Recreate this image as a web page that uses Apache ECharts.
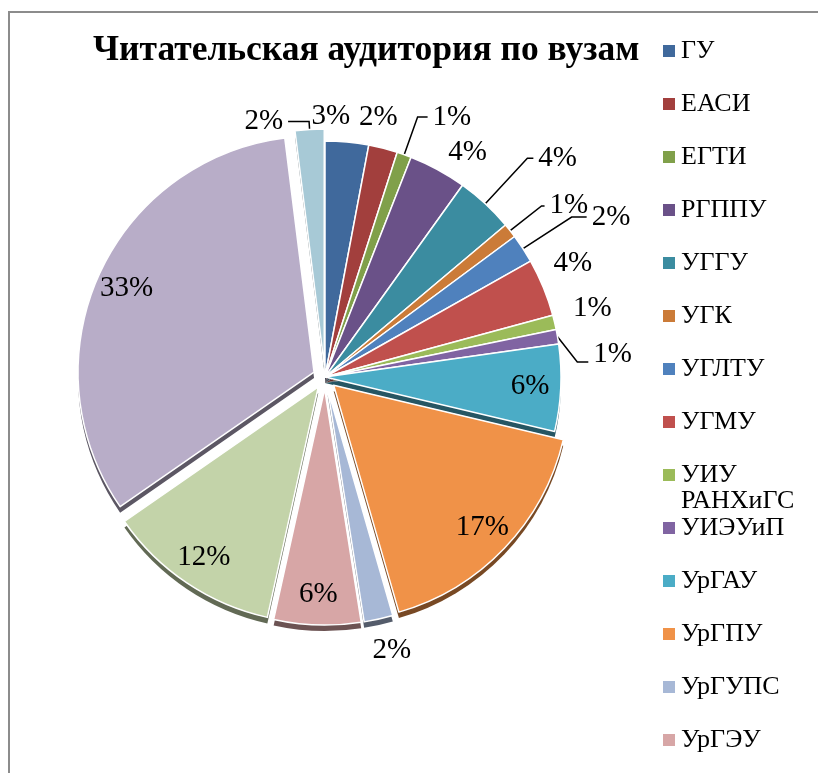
<!DOCTYPE html>
<html>
<head>
<meta charset="utf-8">
<script src="https://cdn.jsdelivr.net/npm/echarts@6/dist/echarts.min.js"></script>
<style>
  html, body { margin: 0; padding: 0; background: #fff; }
  #main { width: 818px; height: 773px; }
</style>
</head>
<body>
<div id="main"></div>
<script>
// вузы (последние три в легенду не попали)
var names = ['ГУ', 'ЕАСИ', 'ЕГТИ', 'РГППУ', 'УГГУ', 'УГК', 'УГЛТУ', 'УГМУ',
	'УИУ РАНХиГС', 'УИЭУиП', 'УрГАУ', 'УрГПУ', 'УрГУПС', 'УрГЭУ',
	'УрГЮУ', 'УрФУ', 'Прочие'];
var shares = [3, 2, 1, 4, 4, 1, 2, 4, 1, 1, 6, 17, 2, 6, 12, 33, 2];
var colors = ['#40699C', '#A23F3D', '#80A04A', '#6A5188', '#3B8CA0', '#CB7B38', '#4F81BD', '#C0504D',
	'#9BBB59', '#8064A2', '#4BACC6', '#F09248', '#A7B8D6', '#D7A6A6',
	'#C3D3A9', '#B8ADC8', '#A7C9D6'];
// подписи: внутри/снаружи, выноска, выдвинутые секторы, длины выносок
var labelInside = [0, 0, 0, 0, 0, 0, 0, 0, 0, 0, 1, 1, 0, 1, 1, 1, 0];
var withLine    = [0, 0, 1, 0, 1, 1, 1, 0, 0, 1, 0, 0, 0, 0, 0, 0, 1];
var exploded    = [0, 0, 0, 0, 0, 0, 0, 0, 0, 0, 0, 1, 1, 1, 1, 1, 1];
var lineLen     = [26, 32, 40, 20, 62, 40, 58, 65, 62, 17, 0, 0, 32, 0, 0, 0, 8];
var lineLen2    = [-43, -37, 10, -4, 6, 3, 15, -55, -47, 14, 0, 0, -18, 0, 0, 0, 21];
var dropLabel   = [0, 0, 0, 0, 0, 0, 0, 0, 0, 20, 0, 0, 0, 0, 0, 0, 0]; // выноска вниз

var legendNames = names.slice(0, 14);
var serif = 'Liberation Serif';
var pieCenter = [325, 377], pieRadius = 236, insideRatio = 0.87, rimDepth = 6;

function darken(hex, k) {
	var n = parseInt(hex.slice(1), 16);
	var r = Math.round((n >> 16 & 255) * k), g = Math.round((n >> 8 & 255) * k), b = Math.round((n & 255) * k);
	return 'rgb(' + r + ',' + g + ',' + b + ')';
}

var total = 0;
for (var t = 0; t < shares.length; t++) total += shares[t];
function midAngle(idx) {
	var s = 0;
	for (var j = 0; j < idx; j++) s += shares[j];
	return (s + shares[idx] / 2) / total * 2 * Math.PI;
}

var pieData = [], rimData = [];
for (var i = 0; i < shares.length; i++) {
	pieData.push({
		name: names[i],
		value: shares[i],
		selected: !!exploded[i],
		itemStyle: { color: colors[i] },
		label: { position: labelInside[i] ? 'inside' : 'outside' },
		labelLine: { show: !!withLine[i], length: lineLen[i], length2: lineLen2[i] }
	});
	rimData.push({
		name: names[i],
		value: shares[i],
		selected: !!exploded[i],
		itemStyle: { color: darken(colors[i], 0.5) }
	});
}

function legendPart(list, top, fmt) {
	return {
		orient: 'vertical',
		left: 661,
		top: top,
		padding: 0,
		itemGap: 27,
		itemWidth: 14,
		itemHeight: 14,
		icon: 'rect',
		selectedMode: false,
		data: list,
		formatter: fmt,
		textStyle: { fontFamily: serif, fontSize: 26, lineHeight: 26, color: '#000' }
	};
}

var chart = echarts.init(document.getElementById('main'));
chart.setOption({
	animation: false,
	color: colors,
	title: {
		text: 'Читательская аудитория по вузам',
		left: 88,
		top: 28,
		textStyle: { fontFamily: serif, fontSize: 35.5, fontWeight: 'bold', color: '#000' }
	},
	legend: [
		legendPart(legendNames.slice(0, 8), 38),
		legendPart(legendNames.slice(8, 9), 436, function (n) { return '\nУИУ\nРАНХиГС'; }),
		legendPart(legendNames.slice(9, 14), 515)
	],
	graphic: [{
		type: 'polyline',
		shape: { points: [[9, 773], [9, 12], [818, 12]] },
		style: { stroke: '#8c8c8c', lineWidth: 2, fill: null }
	}],
	series: [{
		type: 'pie',
		z: 3,
		center: pieCenter,
		radius: pieRadius,
		startAngle: 90,
		clockwise: true,
		selectedMode: 'multiple',
		selectedOffset: 12,
		avoidLabelOverlap: false,
		itemStyle: { borderColor: '#fff', borderWidth: 1.5 },
		select: { itemStyle: { borderColor: '#fff', borderWidth: 1.5 } },
		label: {
			fontFamily: serif,
			fontSize: 29,
			color: '#000',
			formatter: function (p) { return p.value + '%'; }
		},
		labelLine: { lineStyle: { color: '#000', width: 1.5 } },
		labelLayout: function (p) {
			var idx = p.dataIndex, rc = p.labelRect;
			// подписи внутри секторов ближе к краю, как в Excel
			if (labelInside[idx]) {
				var x = rc.x + rc.width / 2 - pieCenter[0], y = rc.y + rc.height / 2 - pieCenter[1];
				var d = Math.sqrt(x * x + y * y);
				var k = pieRadius * insideRatio / d - 1;
				return { dx: x * k, dy: y * k };
			}
			if (dropLabel[idx]) {
				var a = midAngle(idx);
				var yLine = rc.y + rc.height / 2 + dropLabel[idx] + 8;
				return {
					dy: dropLabel[idx],
					labelLinePoints: [
						[pieCenter[0] + pieRadius * Math.sin(a), pieCenter[1] - pieRadius * Math.cos(a)],
						[rc.x - 16, yLine],
						[rc.x - 5, yLine]
					]
				};
			}
			return {};
		},
		data: pieData
	}, {
		// тёмный бортик снизу — имитация объёма
		type: 'pie',
		z: 1,
		silent: true,
		center: [pieCenter[0], pieCenter[1] + rimDepth],
		radius: pieRadius,
		startAngle: 90,
		clockwise: true,
		selectedMode: 'multiple',
		selectedOffset: 12,
		label: { show: false },
		labelLine: { show: false },
		data: rimData
	}]
});
</script>
</body>
</html>
